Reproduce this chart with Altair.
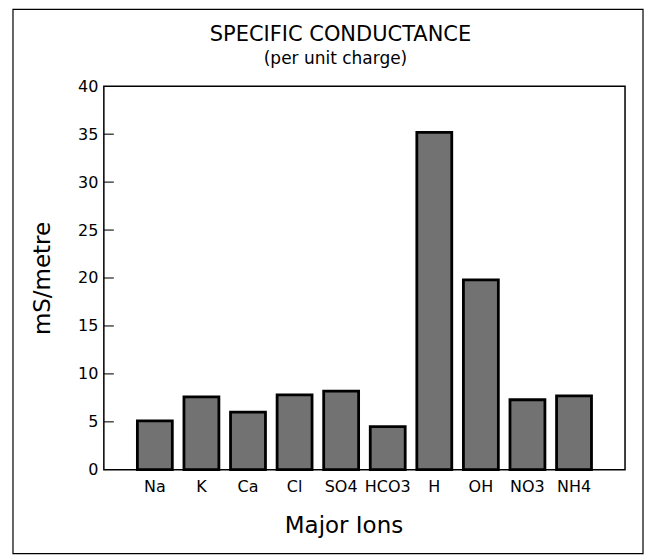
import altair as alt
import pandas as pd

# ---- data ----
ions = ["Na", "K", "Ca", "Cl", "SO4", "HCO3", "H", "OH", "NO3", "NH4"]
conductance = [5.1, 7.6, 6.0, 7.8, 8.2, 4.5, 35.2, 19.8, 7.3, 7.7]
y_tick_values = [0, 5, 10, 15, 20, 25, 30, 35, 40]
inner_ticks = [5, 10, 15, 20, 25, 30, 35]
title_text = "SPECIFIC CONDUCTANCE"
subtitle_text = "(per unit charge)"
x_title = "Major Ions"
y_title = "mS/metre"

FONT = "DejaVu Sans"
W, H = 522, 384

df = pd.DataFrame({"ion": ions, "value": conductance})
ticks_df = pd.DataFrame({"value": inner_ticks})
one = pd.DataFrame({"a": [0]})

x_enc = alt.X(
    "ion:N",
    sort=ions,
    scale=alt.Scale(paddingInner=0.25, paddingOuter=0.72),
    axis=alt.Axis(
        title=x_title, labelAngle=0, ticks=False, domain=False, grid=False,
        labelPadding=9, labelFontSize=16, labelFont=FONT, labelColor="black",
        titleFontSize=23, titleFont=FONT, titleFontWeight="normal", titleColor="black",
        titleX=240, titleY=63, titleBaseline="alphabetic", titleAlign="center",
    ),
)
y_enc = alt.Y(
    "value:Q",
    scale=alt.Scale(domain=[0, 40], nice=False),
    axis=alt.Axis(
        title=y_title, values=y_tick_values, ticks=False, domain=False, grid=False,
        labelPadding=6, labelFontSize=16, labelFont=FONT, labelColor="black",
        titleFontSize=23, titleFont=FONT, titleFontWeight="normal", titleColor="black",
        titleX=-61, titleY=192, titleAngle=270, titleAlign="center", titleBaseline="middle",
    ),
)

border = alt.Chart(one).mark_rect(
    fill="white", fillOpacity=0, stroke="black", strokeWidth=1.2
).encode(
    x=alt.value(-91), x2=alt.value(W + 18), y=alt.value(-77), y2=alt.value(H + 84)
)

bars = alt.Chart(df).mark_bar(
    fill="#727272", stroke="black", strokeWidth=2.8
).encode(x=x_enc, y=y_enc)

ticks = alt.Chart(ticks_df).mark_tick(
    orient="horizontal", size=10, thickness=1.5, color="black"
).encode(y=y_enc, x=alt.value(5))

title = alt.Chart(one).mark_text(
    text=title_text, fontSize=21, font=FONT, color="black", align="center", baseline="alphabetic"
).encode(x=alt.value(237), y=alt.value(-45))

subtitle = alt.Chart(one).mark_text(
    text=subtitle_text, fontSize=17, font=FONT, color="black", align="center", baseline="alphabetic"
).encode(x=alt.value(232), y=alt.value(-22))

chart = alt.layer(border, bars, ticks, title, subtitle).properties(
    width=W, height=H,
    padding={"left": 4, "top": 0, "right": 0, "bottom": 0},
).configure_view(stroke="black", strokeWidth=1.5)

chart.save("out.html", embed_options={"renderer": "svg", "actions": False})
